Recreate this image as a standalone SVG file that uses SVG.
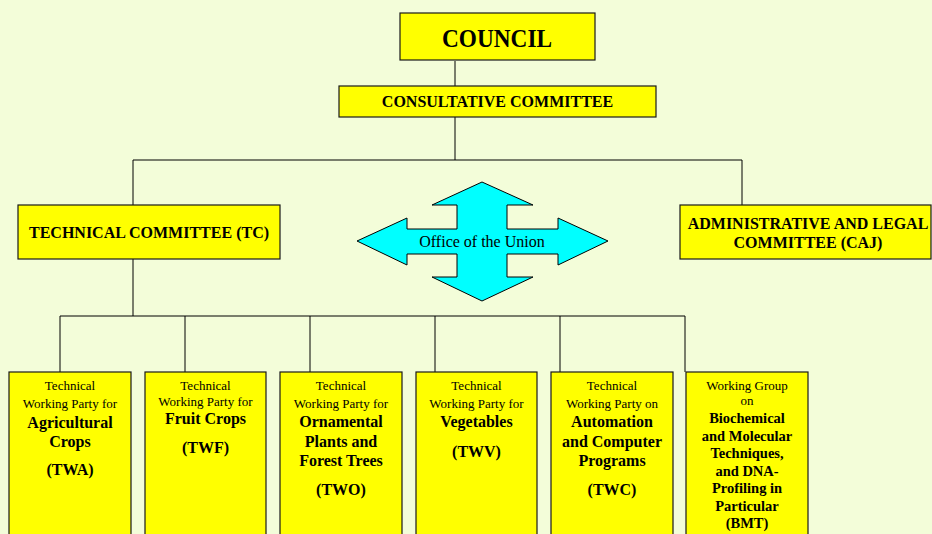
<svg xmlns="http://www.w3.org/2000/svg" width="932" height="534" viewBox="0 0 932 534">
  <style>
    .box { fill: #FFFF00; stroke: #1a1a1a; stroke-width: 1.2; }
    .line { fill: none; stroke: #000; stroke-width: 1; }
    .t { font-family: "Liberation Serif", "Times New Roman", serif; fill: #000; text-anchor: middle; }
    .b { font-weight: bold; }
    .s13 { font-size: 13px; }
    .s16 { font-size: 16px; }
    .s14 { font-size: 14.5px; }
  </style>
  <rect x="0" y="0" width="932" height="534" fill="#F3FDD9"/>

  <!-- connectors -->
  <g id="connectors">
    <path class="line" d="M455 61 V86 M455 117 V160 M133 160 H742 M133 160 V205 M742 160 V205"/>
    <path class="line" d="M133 259 V316" stroke-width="2"/>
    <path class="line" d="M60 316 H685 M60 316 V372 M185 316 V372 M310 316 V372 M435 316 V372 M560 316 V372 M685 316 V372"/>
  </g>

  <g id="council">
    <rect class="box" x="400" y="13" width="195" height="47"/>
    <text class="t b" x="497" y="46.5" font-size="25" textLength="110" lengthAdjust="spacingAndGlyphs">COUNCIL</text>
  </g>

  <g id="consultative">
    <rect class="box" x="339" y="86" width="317" height="31"/>
    <text class="t b s16" x="497.5" y="107">CONSULTATIVE COMMITTEE</text>
  </g>

  <g id="tc">
    <rect class="box" x="18" y="205" width="262" height="54"/>
    <text class="t b s16" x="149" y="238">TECHNICAL COMMITTEE (TC)</text>
  </g>

  <g id="caj">
    <rect class="box" x="680" y="205" width="251" height="54"/>
    <text class="t b s16" x="808" y="229">ADMINISTRATIVE AND LEGAL</text>
    <text class="t b s16" x="808" y="248">COMMITTEE (CAJ)</text>
  </g>

  <g id="office">
    <polygon points="482,182 533,205 507,205 507,229 558,229 558,218 608,241 558,265 558,254 507,254 507,277 533,277 482,301 432,277 457,277 457,254 407,254 407,265 357,241 407,218 407,229 457,229 457,205 432,205" fill="#00FFFF" stroke="#000" stroke-width="1"/>
    <text class="t s16" x="482" y="247">Office of the Union</text>
  </g>

  <g id="twa">
    <rect class="box" x="9" y="372" width="122" height="170"/>
    <text class="t s13" x="70" y="390">Technical</text>
    <text class="t s13" x="70" y="408">Working Party for</text>
    <text class="t b s16" x="70" y="428">Agricultural</text>
    <text class="t b s16" x="70" y="447">Crops</text>
    <text class="t b s16" x="70" y="475">(TWA)</text>
  </g>

  <g id="twf">
    <rect class="box" x="145" y="372" width="121" height="170"/>
    <text class="t s13" x="205.5" y="390">Technical</text>
    <text class="t s13" x="205.5" y="406">Working Party for</text>
    <text class="t b s16" x="205.5" y="424">Fruit Crops</text>
    <text class="t b s16" x="205.5" y="453">(TWF)</text>
  </g>

  <g id="two">
    <rect class="box" x="280" y="372" width="122" height="170"/>
    <text class="t s13" x="341" y="390">Technical</text>
    <text class="t s13" x="341" y="408">Working Party for</text>
    <text class="t b s16" x="341" y="427">Ornamental</text>
    <text class="t b s16" x="341" y="447">Plants and</text>
    <text class="t b s16" x="341" y="466">Forest Trees</text>
    <text class="t b s16" x="341" y="495">(TWO)</text>
  </g>

  <g id="twv">
    <rect class="box" x="416" y="372" width="121" height="170"/>
    <text class="t s13" x="476.5" y="390">Technical</text>
    <text class="t s13" x="476.5" y="408">Working Party for</text>
    <text class="t b s16" x="476.5" y="427">Vegetables</text>
    <text class="t b s16" x="476.5" y="457">(TWV)</text>
  </g>

  <g id="twc">
    <rect class="box" x="551" y="372" width="122" height="170"/>
    <text class="t s13" x="612" y="390">Technical</text>
    <text class="t s13" x="612" y="408">Working Party on</text>
    <text class="t b s16" x="612" y="427">Automation</text>
    <text class="t b s16" x="612" y="447">and Computer</text>
    <text class="t b s16" x="612" y="466">Programs</text>
    <text class="t b s16" x="612" y="495">(TWC)</text>
  </g>

  <g id="bmt">
    <rect class="box" x="686" y="372" width="122" height="170"/>
    <text class="t s13" x="747" y="390">Working Group</text>
    <text class="t s13" x="747" y="405">on</text>
    <text class="t b s14" x="747" y="423">Biochemical</text>
    <text class="t b s14" x="747" y="441">and Molecular</text>
    <text class="t b s14" x="747" y="458">Techniques,</text>
    <text class="t b s14" x="747" y="476">and DNA-</text>
    <text class="t b s14" x="747" y="493">Profiling in</text>
    <text class="t b s14" x="747" y="511">Particular</text>
    <text class="t b s14" x="747" y="528">(BMT)</text>
  </g>
</svg>
